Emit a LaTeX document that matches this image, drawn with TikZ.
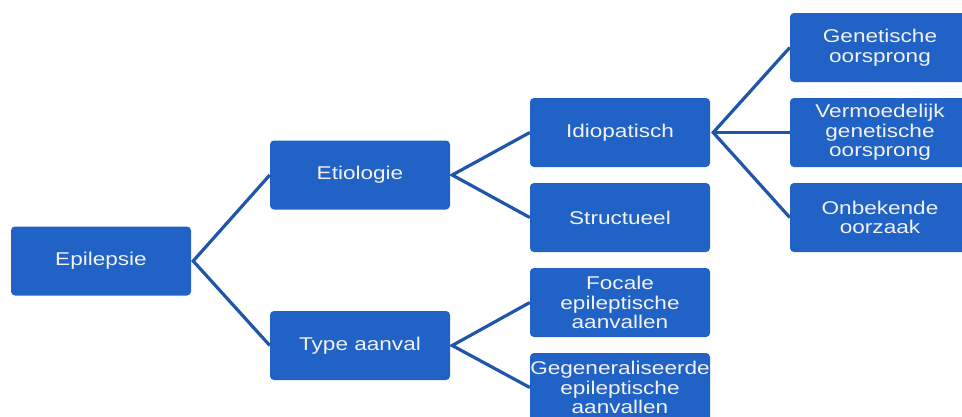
\documentclass[tikz,border=0pt]{standalone}
\usepackage{fontspec}
\newfontfamily\boxfont[FakeStretch=1.22]{Liberation Sans}
\definecolor{boxblue}{HTML}{2062C6}
\definecolor{lineblue}{HTML}{1F56AA}
\definecolor{txt}{HTML}{F2F2F2}
\begin{document}
\begin{tikzpicture}[x=1pt,y=-1pt,
  box/.style={fill=boxblue, draw=none, rounded corners=4pt, minimum width=180pt, minimum height=69pt,
    inner sep=0pt, text=txt, align=center, font=\boxfont\fontsize{18.5}{19.5}\selectfont},
  link/.style={draw=lineblue, line width=3.2pt}]
\useasboundingbox (0,0) rectangle (962,416);
\clip (0,0) rectangle (962,416);
\node[box] (epi) at (101,261) {Epilepsie};
\node[box] (eti) at (360,175) {Etiologie};
\node[box] (typ) at (360,345.5) {Type aanval};
\node[box] (idio) at (620,132.5) {Idiopatisch};
\node[box] (struc) at (620,217.5) {Structueel};
\node[box] (foc) at (620,302.5) {Focale\\epileptische\\aanvallen};
\node[box] (gen) at (620,387.5) {Gegeneraliseerde\\epileptische\\aanvallen};
\node[box] (genet) at (880,47.5) {Genetische\\oorsprong};
\node[box] (verm) at (880,132.5) {Vermoedelijk\\genetische\\oorsprong};
\node[box] (onb) at (880,217.5) {Onbekende\\oorzaak};
\coordinate (f1) at ([xshift=2pt]epi.east);
\coordinate (f2) at ([xshift=2pt]eti.east);
\coordinate (f3) at ([xshift=2pt]typ.east);
\coordinate (f4) at ([xshift=3pt]idio.east);
\draw[link] (eti.west) -- (f1) -- (typ.west);
\draw[link] (idio.west) -- (f2) -- (struc.west);
\draw[link] (foc.west) -- (f3) -- (gen.west);
\draw[link] (genet.west) -- (f4) -- (onb.west);
\draw[link] (f4) -- (verm.west);
\end{tikzpicture}
\end{document}
